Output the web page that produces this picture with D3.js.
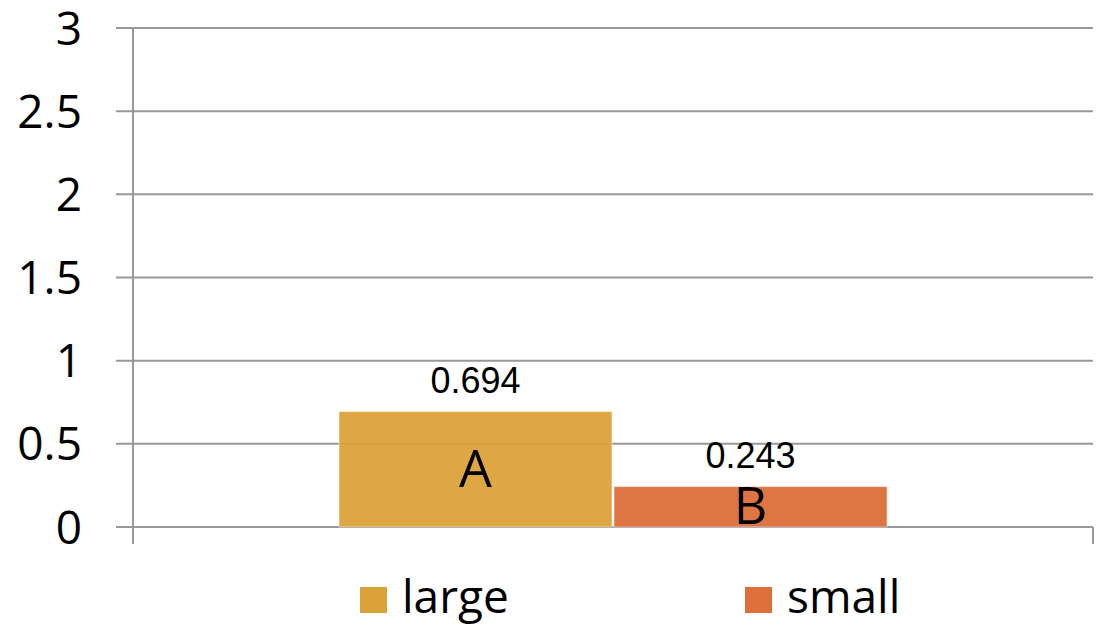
<!DOCTYPE html>
<html>
<head>
<meta charset="utf-8">
<script src="https://cdn.jsdelivr.net/npm/d3@7"></script>
<style>
  html, body { margin: 0; padding: 0; background: #fff; }
  svg { display: block; }
</style>
</head>
<body>
<svg id="chart" width="1101" height="626"></svg>
<script>
// Series and values
const series = ["large", "small"];
const values = [0.694, 0.243];
const barLabels = ["A", "B"];
const yTicks = [0, 0.5, 1, 1.5, 2, 2.5, 3];
const colors = ["#DCA23A", "#DE6E3A"];

const svg = d3.select("#chart");
const plotLeft = 133, plotRight = 1093, plotTop = 28, plotBottom = 527;
const gridColor = "#989898";
const labelFont = "'Open Sans', 'Noto Sans', sans-serif";

const y = d3.scaleLinear().domain([0, 3]).range([plotBottom, plotTop]);
const x = d3.scaleBand().domain(series).range([plotLeft, plotRight])
  .paddingInner(0.0073).paddingOuter(0.749);

// Horizontal gridlines with tick stubs on the left
svg.append("g").selectAll("line").data(yTicks).join("line")
  .attr("x1", 116).attr("x2", plotRight)
  .attr("y1", d => y(d)).attr("y2", d => y(d))
  .attr("stroke", gridColor).attr("stroke-width", 2);

// Vertical axis line, extending below zero as category tick
svg.append("line")
  .attr("x1", plotLeft).attr("x2", plotLeft)
  .attr("y1", plotTop).attr("y2", 544)
  .attr("stroke", gridColor).attr("stroke-width", 2);
svg.append("line")
  .attr("x1", plotRight).attr("x2", plotRight)
  .attr("y1", plotBottom).attr("y2", 544)
  .attr("stroke", gridColor).attr("stroke-width", 2);

// Y tick labels
svg.append("g").selectAll("text").data(yTicks).join("text")
  .attr("x", 82).attr("y", d => y(d))
  .attr("dy", "0.36em")
  .attr("text-anchor", "end")
  .attr("font-family", labelFont)
  .attr("font-size", 46)
  .attr("fill", "#000")
  .text(d => d3.format("")(d));

// Bars
const data = series.map((s, i) => ({ s, v: values[i], label: barLabels[i], c: colors[i] }));
svg.append("g").selectAll("rect").data(data).join("rect")
  .attr("x", d => x(d.s))
  .attr("y", d => y(d.v))
  .attr("width", x.bandwidth())
  .attr("height", d => y(0) - y(d.v))
  .attr("fill", d => d.c)
  .attr("fill-opacity", 0.95)
  .attr("stroke", "#fff").attr("stroke-opacity", 0.5).attr("stroke-width", 1);

// Category letter inside each bar
svg.append("g").selectAll("text").data(data).join("text")
  .attr("x", d => x(d.s) + x.bandwidth() / 2)
  .attr("y", d => (y(d.v) + y(0)) / 2)
  .attr("dy", "0.34em")
  .attr("text-anchor", "middle")
  .attr("font-family", labelFont)
  .attr("font-size", 52)
  .attr("fill", "#000")
  .text(d => d.label);

// Value labels above bars
svg.append("g").selectAll("text").data(data).join("text")
  .attr("x", d => x(d.s) + x.bandwidth() / 2)
  .attr("y", d => y(d.v) - 19)
  .attr("text-anchor", "middle")
  .attr("font-family", "'Liberation Sans', Arial, sans-serif")
  .attr("font-size", 36)
  .attr("fill", "#000")
  .text(d => d3.format(".3f")(d.v));

// Legend
const legendX = [360, 745];
const lg = svg.append("g").selectAll("g").data(data).join("g")
  .attr("transform", (d, i) => `translate(${legendX[i]},587)`);
lg.append("rect").attr("width", 27).attr("height", 26).attr("fill", d => d.c);
lg.append("text")
  .attr("x", 42).attr("y", 26)
  .attr("font-family", labelFont)
  .attr("font-size", 46)
  .attr("fill", "#000")
  .text(d => d.s);
</script>
</body>
</html>
